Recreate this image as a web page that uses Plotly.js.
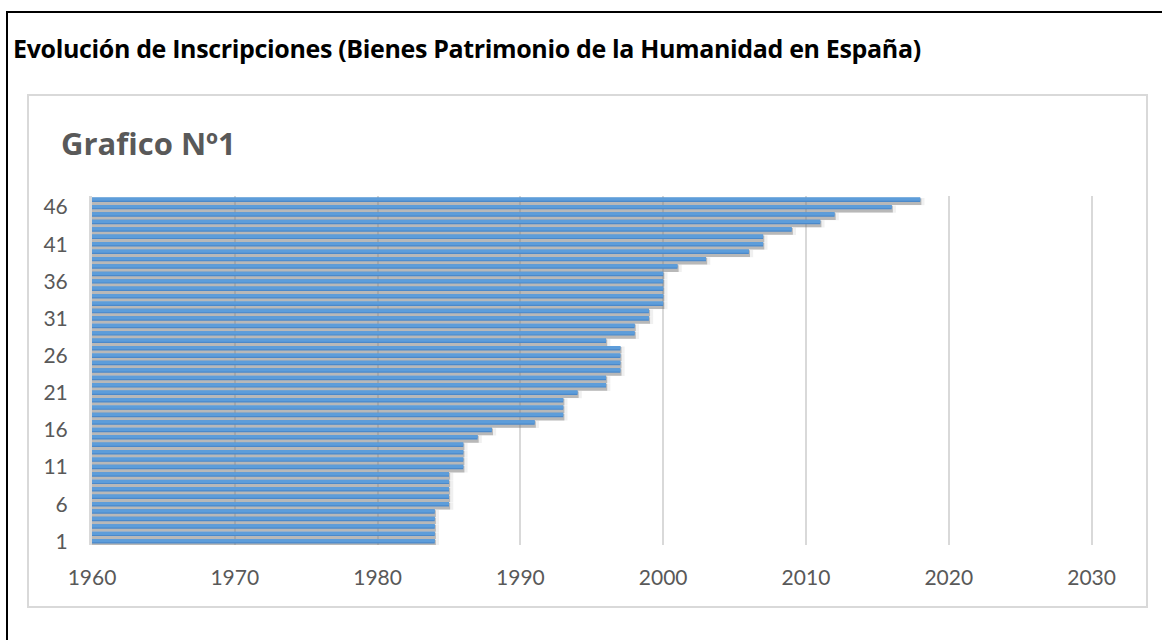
<!DOCTYPE html>
<html lang="es">
<head>
<meta charset="utf-8">
<title>Evolución de Inscripciones</title>
<script src="https://cdn.plot.ly/plotly-3.0.1.min.js"></script>
<style>
    html, body { margin: 0; padding: 0; background: #ffffff; }
    body { width: 1162px; height: 640px; position: relative; overflow: hidden; font-family: "Open Sans", Lato, sans-serif; }
    /* outer black frame (only left and top edges are inside the picture) */
    .frame { position: absolute; left: 6px; top: 11px; width: 1200px; height: 700px; border-left: 2px solid #000; border-top: 2px solid #000; }
    .main-title { position: absolute; left: 13px; top: 31px; font-weight: 700; font-size: 25px; letter-spacing: -0.35px; color: #000; white-space: nowrap; }
    /* light grey chart box */
    .chart-box { position: absolute; left: 27px; top: 94px; width: 1117px; height: 510px; border: 2px solid #d9d9d9; }
    #chart { position: absolute; left: 0; top: 0; width: 1162px; height: 640px; }
</style>
</head>
<body>
<div class="frame"></div>
<div class="main-title">Evolución de Inscripciones (Bienes Patrimonio de la Humanidad en España)</div>
<div class="chart-box"></div>
<div id="chart"></div>
<script>
// Inscription number (1..47) and the year each site was inscribed
const inscripciones = Array.from({ length: 47 }, (_, i) => i + 1);
const anios = [
    1984, 1984, 1984, 1984, 1984,
    1985, 1985, 1985, 1985, 1985,
    1986, 1986, 1986, 1986,
    1987, 1988, 1991,
    1993, 1993, 1993,
    1994, 1996, 1996,
    1997, 1997, 1997, 1997,
    1996, 1998, 1998, 1999, 1999,
    2000, 2000, 2000, 2000, 2000,
    2001, 2003, 2006, 2007, 2007,
    2009, 2011, 2012, 2016, 2018
];
const yTicks = [1, 6, 11, 16, 21, 26, 31, 36, 41, 46];
const xTicks = [1960, 1970, 1980, 1990, 2000, 2010, 2020, 2030];

const tickFont = { family: 'Lato, "Open Sans", sans-serif', size: 21, color: '#595959' };

// Excel style drop shadow: a soft wide layer and a darker narrow one
const shadowSoft = {
    type: 'bar', orientation: 'h',
    x: anios.map(a => a + 0.3), y: inscripciones,
    offset: -0.75, width: 0.98,
    marker: { color: 'rgba(128,128,128,0.12)', line: { width: 0 } },
    hoverinfo: 'skip'
};
const shadow = {
    type: 'bar', orientation: 'h',
    x: anios.map(a => a + 0.08), y: inscripciones,
    offset: -0.72, width: 0.9,
    marker: { color: 'rgba(128,128,128,0.5)', line: { width: 0 } },
    hoverinfo: 'skip'
};
const barras = {
    type: 'bar', orientation: 'h',
    x: anios, y: inscripciones,
    width: 0.6,
    marker: { color: '#4b89ca', line: { width: 0 } },
    hovertemplate: 'Nº %{y}: %{x}<extra></extra>'
};
// lighter upper part to fake the gradient fill
const brillo = {
    type: 'bar', orientation: 'h',
    x: anios, y: inscripciones,
    offset: -0.14, width: 0.44,
    marker: { color: '#5d9dda', line: { width: 0 } },
    hoverinfo: 'skip'
};

const layout = {
    width: 1162, height: 640,
    paper_bgcolor: 'rgba(0,0,0,0)',
    plot_bgcolor: 'rgba(0,0,0,0)',
    margin: { l: 92, r: 69, t: 196, b: 95 },
    barmode: 'overlay',
    showlegend: false,
    title: {
        text: '<b>Grafico Nº1</b>',
        font: { family: '"Open Sans", Lato, sans-serif', size: 31, color: '#595959' },
        x: 61 / 1162, xref: 'container', xanchor: 'left',
        y: 1 - 144 / 640, yref: 'container', yanchor: 'middle'
    },
    xaxis: {
        range: [1960, 2030.1],
        tickvals: xTicks,
        ticks: 'outside', ticklen: 14, tickcolor: 'rgba(0,0,0,0)',
        showgrid: true, gridcolor: '#d9d9d9', gridwidth: 2,
        zeroline: false, showline: false,
        tickfont: tickFont,
        fixedrange: true
    },
    yaxis: {
        range: [0.5, 47.5],
        tickvals: yTicks,
        ticks: 'outside', ticklen: 17, tickcolor: 'rgba(0,0,0,0)',
        showgrid: false, zeroline: false,
        showline: true, linecolor: '#d9d9d9', linewidth: 3,
        tickfont: tickFont,
        fixedrange: true
    }
};

Plotly.newPlot('chart', [shadowSoft, shadow, barras, brillo], layout, { displayModeBar: false, staticPlot: true });
</script>
</body>
</html>
